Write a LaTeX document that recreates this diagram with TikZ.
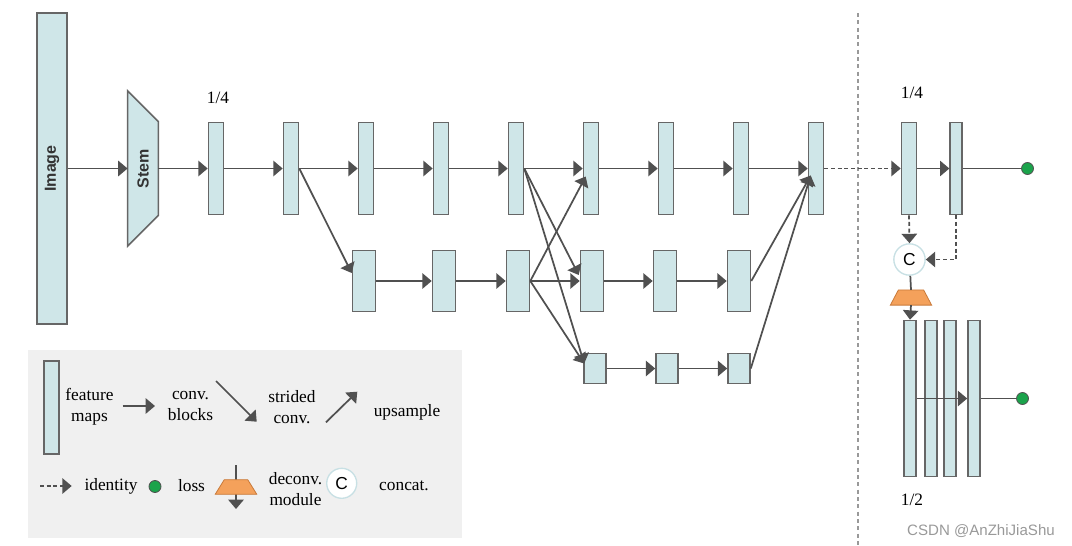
\documentclass[tikz,border=0pt]{standalone}
\usepackage{fontspec}
\setmainfont{Liberation Serif}
\setsansfont{Liberation Sans}
\usetikzlibrary{arrows.meta,calc}

\definecolor{boxblue}{HTML}{CFE6E8}
\definecolor{edgegray}{HTML}{666666}
\definecolor{arrowgray}{HTML}{505050}
\definecolor{lossgreen}{HTML}{1BA34B}
\definecolor{deconvorange}{HTML}{F4A15B}
\definecolor{deconvedge}{HTML}{C97A3A}
\definecolor{legendgray}{HTML}{F0F0F0}
\definecolor{catteal}{HTML}{C8E0E4}
\definecolor{splitgray}{HTML}{999999}
\definecolor{textgray}{HTML}{333333}

\begin{document}
\begin{tikzpicture}[x=0.75pt,y=-0.75pt,
  fmap node/.style={draw=edgegray,fill=boxblue,line width=1.2pt,inner sep=0pt},
  top node/.style={fmap node,minimum width=11.25pt,minimum height=69pt},
  mid node/.style={fmap node,minimum width=17.25pt,minimum height=45.75pt},
  low node/.style={fmap node,minimum width=16.5pt,minimum height=22.5pt},
  thin node/.style={fmap node,minimum width=9pt,minimum height=117pt},
  conv/.style={color=arrowgray,line width=1.3pt,-{Triangle[length=7pt,width=11.5pt]}},
  ident/.style={conv,dash pattern=on 3pt off 2pt},
  plain/.style={color=arrowgray,line width=1.3pt},
  loss node/.style={circle,draw=arrowgray,fill=lossgreen,line width=0.6pt,minimum size=9pt,inner sep=0pt},
  cat node/.style={circle,draw=catteal,fill=white,line width=1pt,minimum size=23.5pt,inner sep=0pt,font=\sffamily\fontsize{13}{13}\selectfont},
  deconv node/.style={minimum width=30.5pt,minimum height=11pt,inner sep=0pt},
  label node/.style={font=\fontsize{13}{15.5}\selectfont,align=center,inner sep=0pt},
  side label/.style={font=\sffamily\bfseries\fontsize{12}{12}\selectfont,text=textgray,rotate=90,inner sep=0pt}]

  \useasboundingbox (0,0) rectangle (1072,546);

  % legend background
  \fill[legendgray] (28,350) rectangle (462,538);

  % image and stem
  \node[fmap node,minimum width=22.5pt,minimum height=233.25pt] (img) at (52,168.5) {};
  \node[side label] (imgtext) at (img) {Image};
  \node[inner sep=0pt,minimum width=22.75pt,minimum height=116pt] (stem) at (143,168.5) {};
  \draw[draw=edgegray,fill=boxblue,line width=1.2pt] (stem.north west) -- ($(stem.north east)+(0,30.7)$)
    -- ($(stem.south east)+(0,-30.7)$) -- (stem.south west) -- cycle;
  \node[side label] (stemtext) at (stem) {Stem};

  % high resolution row
  \node[top node] (a1) at (216,168.5) {};
  \node[top node] (a2) at (291,168.5) {};
  \node[top node] (a3) at (366,168.5) {};
  \node[top node] (a4) at (441,168.5) {};
  \node[top node] (a5) at (516,168.5) {};
  \node[top node] (a6) at (591,168.5) {};
  \node[top node] (a7) at (666,168.5) {};
  \node[top node] (a8) at (741,168.5) {};
  \node[top node] (a9) at (816,168.5) {};
  \node[label node] (q1) at (218,98) {1/4};

  % medium resolution row
  \node[mid node] (b1) at (364,281) {};
  \node[mid node] (b2) at (444,281) {};
  \node[mid node] (b3) at (518,281) {};
  \node[mid node] (b4) at (592,281) {};
  \node[mid node] (b5) at (665,281) {};
  \node[mid node] (b6) at (739,281) {};

  % low resolution row
  \node[low node] (c1) at (595,368.5) {};
  \node[low node] (c2) at (667,368.5) {};
  \node[low node] (c3) at (739,368.5) {};

  \path[conv]
   (img) edge (stem)
   (stem) edge (a1)
   (a1) edge (a2)
   (a2) edge (a3)
   (a3) edge (a4)
   (a4) edge (a5)
   (a5) edge (a6)
   (a6) edge (a7)
   (a7) edge (a8)
   (a8) edge (a9)
   (a2.east) edge ($(b1.west)+(0,-8)$)
   (b1) edge (b2)
   (b2) edge (b3)
   (b3) edge (b4)
   (b4) edge (b5)
   (b5) edge (b6)
   (c1) edge (c2)
   (c2) edge (c3)
   (a5.east) edge ($(b4.west)+(-1,-6)$)
   (a5.east) edge ($(c1.west)+(1,-5)$)
   (b3.east) edge ($(a6.west)+(3,8)$)
   (b3.east) edge ($(c1.west)+(1,-5)$)
   (b6.east) edge ($(a9.west)+(3,7)$)
   (c3.east) edge ($(a9.west)+(3,7)$);

  % divider
  \draw[splitgray,line width=0.8pt,dash pattern=on 3pt off 2.5pt] (858,13) -- (858,546);

  % heads
  \node[top node] (r1) at (909,168.5) {};
  \node[top node,minimum width=8.75pt] (r2) at (956,168.5) {};
  \node[label node] (q2) at (912,93) {1/4};
  \node[loss node] (loss1) at (1027.5,168.5) {};
  \node[cat node] (cat) at (909.5,259.5) {C};
  \node[deconv node] (dec) at (911,297.5) {};
  \draw[fill=deconvorange,draw=deconvedge,line width=0.6pt] (dec.south west) -- (dec.south east)
    -- ($(dec.north east)+(-8,0)$) -- ($(dec.north west)+(8,0)$) -- cycle;
  \node[thin node] (d1) at (910,398.5) {};
  \node[thin node] (d2) at (931,398.5) {};
  \node[thin node] (d3) at (950,398.5) {};
  \node[thin node] (d4) at (974,398.5) {};
  \node[loss node] (loss2) at (1022.5,398.5) {};
  \node[label node] (q3) at (912,500) {1/2};

  \path[ident] (a9) edge (r1)
   (r1.south) edge (cat.north);
  \draw[ident] (r2.south) |- (cat.east);
  \path[conv] (r1) edge (r2)
   (dec.south) edge (d1.north)
   (d1.east) edge (d4.west);
  \path[plain] (r2) edge (loss1)
   (cat) edge (dec.north)
   (d4) edge (loss2);

  % legend
  \node[fmap node,minimum width=11.25pt,minimum height=69.75pt] (lfm) at (51.5,407.5) {};
  \node[label node] (lfmtext) at (89.5,407) {feature\\maps};
  \coordinate (lc1) at (122.7,406);
  \coordinate (lc2) at (155,406);
  \node[label node] (lconv) at (190.5,406) {conv.\\blocks};
  \coordinate (ls1) at (216,381);
  \coordinate (ls2) at (256.7,421.7);
  \node[label node] (lstride) at (292,407) {strided\\conv.};
  \coordinate (lu1) at (326,422.3);
  \coordinate (lu2) at (357.3,391.7);
  \node[label node] (lup) at (407,412) {upsample};
  \coordinate (li1) at (40,486);
  \coordinate (li2) at (71.7,486);
  \node[label node] (lid) at (111,486) {identity};
  \node[loss node] (lloss) at (155,486.5) {};
  \node[label node] (llosstext) at (191.5,486) {loss};
  \coordinate (ld1) at (236,465);
  \coordinate (ld2) at (236,509);
  \path[conv] (lc1) edge (lc2)
   (ls1) edge (ls2)
   (lu1) edge (lu2)
   (ld1) edge (ld2);
  \path[ident] (li1) edge (li2);
  \node[deconv node,minimum width=30.75pt,minimum height=10.5pt] (ldec) at (236,487) {};
  \draw[fill=deconvorange,draw=deconvedge,line width=0.6pt] (ldec.south west) -- (ldec.south east)
    -- ($(ldec.north east)+(-9,0)$) -- ($(ldec.north west)+(9,0)$) -- cycle;
  \node[label node] (ldectext) at (295.5,489) {deconv.\\module};
  \node[cat node,minimum size=22.5pt] (lcat) at (341.7,483.3) {C};
  \node[label node] (lcattext) at (404,486) {concat.};

  \node[font=\sffamily\fontsize{11.3}{12}\selectfont,text=splitgray,inner sep=0pt] (mark) at (981,531) {CSDN @AnZhiJiaShu};
\end{tikzpicture}
\end{document}
